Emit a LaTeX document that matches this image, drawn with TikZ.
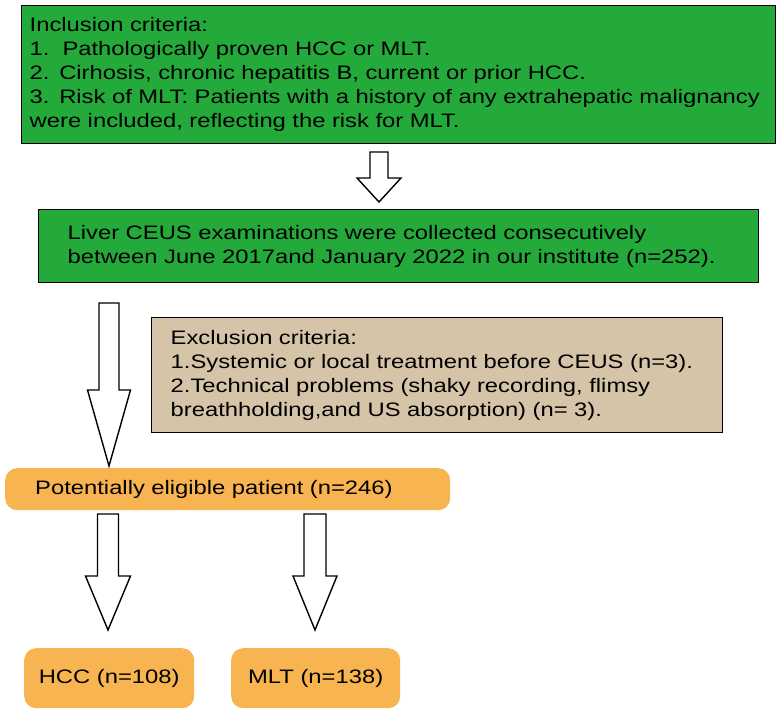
\documentclass[tikz,border=0pt]{standalone}
\usepackage{fontspec}
\setmainfont{Liberation Sans}[FakeStretch=1.22]
\usetikzlibrary{calc, positioning}
\definecolor{incgreen}{RGB}{36,170,58}
\definecolor{exctan}{RGB}{213,196,168}
\definecolor{patorange}{RGB}{248,180,80}
\tikzstyle{incbox} = [draw, rectangle, fill=incgreen, line width=1.4pt, anchor=north west, align=left]
\tikzstyle{excbox} = [draw, rectangle, fill=exctan, line width=1.4pt, anchor=north west, align=left]
\tikzstyle{patbox} = [rectangle, rounded corners=12pt, fill=patorange, anchor=north west]
\tikzstyle{hollow} = [draw, fill=white, line width=1.4pt, line join=miter]
\newcommand{\fatarrow}[5]{\draw[hollow] let \p1=#1, \p2=#2 in
  (\x1-#3,\y1) -- (\x1+#3,\y1) -- (\x1+#3,\y2+#5) -- (\x1+#4,\y2+#5) -- (\x2,\y2)
  -- (\x1-#4,\y2+#5) -- (\x1-#3,\y2+#5) -- cycle;}

\begin{document}
\begin{tikzpicture}[x=1pt,y=-1pt,every node/.style={font=\fontsize{19.5}{24}\selectfont}]
\useasboundingbox (0,0) rectangle (780,714);
\node [incbox, minimum width=754pt, minimum height=138pt, inner xsep=8pt, text width=738pt] (incl) at (21,5)
  {Inclusion criteria:\\1.\ \ Pathologically proven HCC or MLT.\\2. Cirhosis, chronic hepatitis B, current or prior HCC.\\3. Risk of MLT: Patients with a history of any extrahepatic malignancy\\were included, reflecting the risk for MLT.};
\node [incbox, minimum width=720pt, minimum height=73pt, inner xsep=29pt, text width=662pt] (ceus) at (38,209)
  {Liver CEUS examinations were collected consecutively\\between June 2017and January 2022 in our institute (n=252).};
\node [excbox, minimum width=571pt, minimum height=115pt, inner xsep=19pt, text width=533pt] (excl) at (151,317)
  {Exclusion criteria:\\1.Systemic or local treatment before CEUS (n=3).\\2.Technical problems (shaky recording, flimsy\\breathholding,and US absorption) (n= 3).};
\node [patbox, minimum width=445pt, minimum height=42pt, inner xsep=30pt, text width=385pt, align=left] (elig) at (5,468)
  {Potentially eligible patient (n=246)};
\node [patbox, minimum width=170pt, minimum height=60pt] (hcc) at (24,648) {HCC (n=108)};
\node [patbox, minimum width=169pt, minimum height=60pt] (mlt) at (231,648) {MLT (n=138)};

\coordinate (a1top) at (379,152);
\coordinate (a1tip) at (379,202);
\coordinate (a2top) at (109,303);
\coordinate (a2tip) at (109,466);
\coordinate (a3top) at (108,514);
\coordinate (a3tip) at (108,630);
\coordinate (a4top) at (315,514);
\coordinate (a4tip) at (315,630);

\fatarrow{(a1top)}{(a1tip)}{9pt}{22pt}{24pt}
\fatarrow{(a2top)}{(a2tip)}{10pt}{21.5pt}{76pt}
\fatarrow{(a3top)}{(a3tip)}{10.5pt}{22.5pt}{54pt}
\fatarrow{(a4top)}{(a4tip)}{11pt}{22pt}{54pt}
\end{tikzpicture}
\end{document}
